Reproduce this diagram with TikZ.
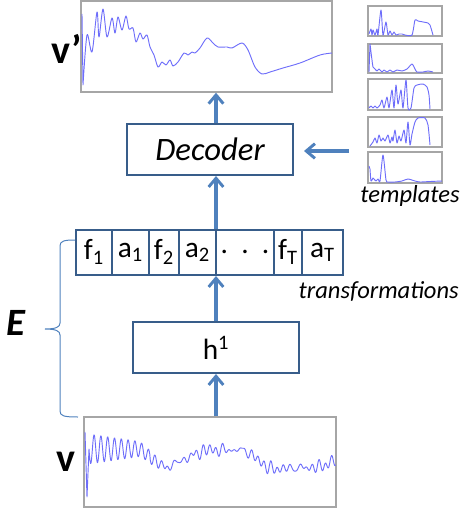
\documentclass[tikz,border=0pt]{standalone}
\usepackage{fontspec}
\setmainfont{Carlito}
\usetikzlibrary{arrows.meta,fit}
\definecolor{boxblue}{RGB}{56,93,138}
\definecolor{flowblue}{RGB}{79,129,189}
\definecolor{wavecol}{RGB}{110,110,250}
\definecolor{framegray}{RGB}{166,166,166}
\tikzset{
  stage/.style={draw=boxblue, line width=1.5pt, inner sep=0pt},
  frame/.style={draw=framegray, line width=1.1pt, inner sep=0pt},
  flow/.style={draw=flowblue, line width=2.6pt,
    -{Straight Barb[length=6.5pt,width=11pt,line width=2.2pt]}},
  wave/.style={draw=wavecol, line width=0.7pt, line join=round},
  brace/.style={draw=flowblue, line width=0.75pt},
  cell/.style={inner sep=0pt, font=\fontsize{22}{26}\selectfont},
  note/.style={inner sep=0pt, font=\fontsize{18.4}{22}\selectfont\itshape},
  sym/.style={inner sep=0pt, font=\fontsize{30}{34}\selectfont\bfseries},
}
\begin{document}
\begin{tikzpicture}[x=0.75pt, y=-0.75pt,
  declare function={
    bbase(\x) = ifthenelse(\x<140, 449, ifthenelse(\x<165, 449+19*(\x-140)/25,
      ifthenelse(\x<205, 468-18*(\x-165)/40, ifthenelse(\x<245, 450,
      ifthenelse(\x<270, 450+19*(\x-245)/25, ifthenelse(\x<320, 469-2*(\x-270)/50,
      467-7*(\x-320)/16))))));
    bamp(\x) = ifthenelse(\x<150, 15-9*(\x-89)/61, 2.5);
    bwave(\x) = bbase(\x) + bamp(\x)*sin(52.94*(\x-89))
      + ifthenelse(\x<150, 0, 2.5*sin(59*(\x-89))+2*sin(37*(\x-89))+1.5*sin(23*(\x-89)+40));
  }]
\useasboundingbox (0,0) rectangle (462,511);

% ---------- signal frames ----------
\node[frame, fit={(81,1) (332,92)}] (vp) {};
\node[frame, fit={(84,417) (336,507)}] (v) {};

% reconstructed signal
\draw[wave] (82,14) -- (83,85) -- plot[smooth, tension=0.5] coordinates {
  (83,85) (87,35) (92,52) (97,12) (99,37) (103,9) (107,37) (112,18) (115,33)
  (118,17) (122,30) (126,16) (129,29) (133,28) (136,42) (140,33) (143,39)
  (147,35) (150,47) (154,55) (158,67) (162,62) (166,65) (170,60) (173,66)
  (178,62) (184,53) (188,55) (192,52) (195,53) (200,48) (207,38) (213,43)
  (218,47) (227,47) (232,48) (242,43) (248,50) (255,67) (262,74) (270,72)
  (283,68) (300,63) (320,55) (332,53)};

% input signal
\draw[wave] (85,432) -- (87,497) -- (89,449)
  -- plot[domain=89:335.5, samples=500] (\x, {bwave(\x)});

% ---------- stages ----------
\node[stage, fit={(133,322) (299,373)}] (h) {};
\node[cell] at (h.center) {h\textsuperscript{1}};

\node[stage, fit={(76,230) (343,275)}] (tr) {};
\foreach \cx in {112,149,179,216,274,302}
  \draw[stage] (tr.north -| \cx,0) -- (tr.south -| \cx,0);
\node[cell] at (94,252)  {f\textsubscript{1}};
\node[cell] at (130.5,252) {a\textsubscript{1}};
\node[cell] at (164,252) {f\textsubscript{2}};
\node[cell] at (197.5,252) {a\textsubscript{2}};
\node[cell] at (245,252) {.\ \ .\ \ .};
\node[cell] at (288,252) {f\textsubscript{T}};
\node[cell] at (322.5,252) {a\textsubscript{T}};
\node[note, anchor=north east] (trlab) at (459,281) {transformations};

\node[stage, fit={(127,124) (293,175)}] (dec) {};
\node[inner sep=0pt, font=\fontsize{24.5}{28}\selectfont\itshape] at (dec.center) {Decoder};

% ---------- templates ----------
\node[frame, fit={(368,6) (442,36)}] (t1) {};
\node[frame, fit={(368,44) (442,73)}] (t2) {};
\node[frame, fit={(368,79) (442,110)}] (t3) {};
\node[frame, fit={(368,117) (442,147)}] (t4) {};
\node[frame, fit={(368,152) (442,183)}] (t5) {};
\node[note, anchor=north] (tlab) at (410,185) {templates};

\draw[wave] plot[smooth, tension=0.4] coordinates {
  (369,34) (371,29) (372,35) (373,30) (375,35) (377,29) (378,35) (381,10)
  (383,35) (386,22) (388,35) (390,31) (392,35) (394,32) (396,35) (399,34)
  (402,34) (405,35) (412,35) (415,20) (418,21) (428,23) (430,25) (433,35)};
\draw[wave] (369,72) -- (370,44) -- plot[smooth, tension=0.4] coordinates {
  (370,44) (372,60) (373,67) (375,69) (377,71) (379,69) (382,72) (384,70)
  (387,72) (390,70) (393,72) (397,70) (402,71) (407,69) (412,64) (415,69)
  (417,72) (423,72) (428,71) (433,72)};
\draw[wave] plot[smooth, tension=0.4] coordinates {
  (369,108) (371,106) (373,108) (375,106) (377,108) (380,105) (382,100)
  (384,108) (387,97) (389,108) (392,90) (394,108) (396,85) (398,104)
  (401,90) (403,108) (406,80) (408,108) (411,108) (414,88) (417,85)
  (423,84) (427,87) (429,95) (430,109)};
\draw[wave] plot[smooth, tension=0.4] coordinates {
  (370,146) (373,142) (375,138) (377,143) (379,135) (381,141) (383,138)
  (385,141) (388,135) (390,143) (392,137) (393,141) (395,130) (397,143)
  (399,136) (401,141) (404,130) (406,143) (408,122) (410,145) (412,134)
  (415,122) (418,118) (425,118) (428,125) (430,145)};
\draw[wave] (369,166) -- (370,169) -- plot[smooth, tension=0.4] coordinates {
  (370,169) (371,181) (373,178) (374,179) (376,181) (378,179) (380,181)
  (383,155) (386,180) (388,182) (395,182) (402,181) (408,179) (415,181)
  (420,182) (430,181.5) (442,181)};

% ---------- labels ----------
\node[sym] (vplab) at (67,49) {v’};
\node[sym] (vlab) at (66,462) {v};
\node[sym, font=\fontsize{29}{34}\selectfont\bfseries\itshape] (elab) at (16,323) {E};

% ---------- encoder brace ----------
\coordinate (btop) at (75,240);
\coordinate (bbot) at (78,417);
\coordinate (btip) at (45,329);
\draw[brace] (btop) .. controls (64,240) and (60,241) .. (60,246) -- (60,323)
  .. controls (60,327) and (56,329) .. (btip)
  .. controls (56,329) and (60,331) .. (60,335) -- (60,411)
  .. controls (60,416) and (64,417) .. (bbot);

% ---------- data flow ----------
\draw[flow] (v.north -| h.center) -- (h.south);
\draw[flow] (h.north) -- (tr.south -| h.center);
\draw[flow] (tr.north -| h.center) -- (dec.south -| h.center);
\draw[flow] (dec.north -| h.center) -- (vp.south -| h.center);
\coordinate (tin) at (349,151);
\draw[flow, shorten >=7.5pt] (tin) -- (dec.east |- tin);
\end{tikzpicture}
\end{document}
